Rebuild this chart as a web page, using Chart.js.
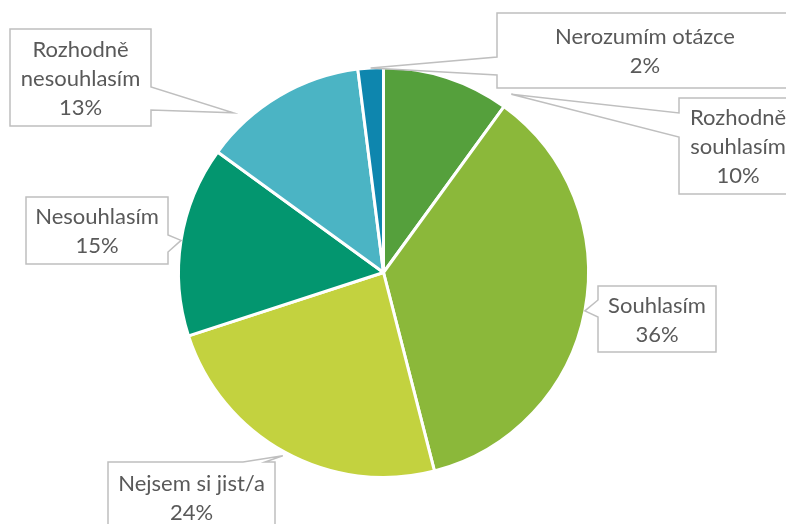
<!DOCTYPE html>
<html>
<head>
<meta charset="utf-8">
<script src="https://cdn.jsdelivr.net/npm/chart.js@4"></script>
<style>
  body { margin: 0; background: #fff; }
  canvas { display: block; }
</style>
</head>
<body>
<canvas id="grafica" width="786" height="524"></canvas>
<script>
// Kategorie a podíly odpovědí (v %)
var kategorie = ['Rozhodně souhlasím', 'Souhlasím', 'Nejsem si jist/a', 'Nesouhlasím', 'Rozhodně nesouhlasím', 'Nerozumím otázce'];
var podily = [10, 36, 24, 15, 13, 2];
var barvy = ['#55A03C', '#8BB83A', '#C3D23F', '#03966F', '#4BB4C4', '#0E86AE'];

// Rozmístění popisků (rámeček, strana se šipkou, kam šipka míří na výseči)
var popisky = [
    { box: [679, 98, 118, 96], side: 'left', base: [113, 137], frac: 0.99, r: 1.07, lines: ['Rozhodně', 'souhlasím'] },
    { box: [598, 286, 118, 66], side: 'left', base: [300, 317], frac: 0.5, r: 1.0, lines: ['Souhlasím'] },
    { box: [108, 462, 167, 70], side: 'top', base: [243, 265], frac: 0.5, r: 1.02, lines: ['Nejsem si jist/a'] },
    { box: [26, 197, 142, 67], side: 'right', base: [235, 252], frac: 0.5, r: 1.0, lines: ['Nesouhlasím'] },
    { box: [10, 29, 141, 97], side: 'right', base: [87, 110], frac: 0.23, r: 1.07, lines: ['Rozhodně', 'nesouhlasím'] },
    { box: [497, 13, 296, 75], side: 'left', base: [57, 75], frac: 0.5, r: 1.0, lines: ['Nerozumím otázce'] }
];

var calloutPlugin = {
    id: 'callouts',
    afterDatasetsDraw: function (chart) {
        var ctx = chart.ctx;
        var arcs = chart.getDatasetMeta(0).data;
        ctx.save();
        popisky.forEach(function (p, i) {
            var arc = arcs[i];
            var a = arc.startAngle + (arc.endAngle - arc.startAngle) * p.frac;
            var tx = arc.x + Math.cos(a) * arc.outerRadius * p.r;
            var ty = arc.y + Math.sin(a) * arc.outerRadius * p.r;
            var x = p.box[0], y = p.box[1], w = p.box[2], h = p.box[3];
            ctx.beginPath();
            if (p.side === 'left') {
                ctx.moveTo(x, y); ctx.lineTo(x + w, y); ctx.lineTo(x + w, y + h); ctx.lineTo(x, y + h);
                ctx.lineTo(x, p.base[1]); ctx.lineTo(tx, ty); ctx.lineTo(x, p.base[0]);
            } else if (p.side === 'right') {
                ctx.moveTo(x, y); ctx.lineTo(x + w, y); ctx.lineTo(x + w, p.base[0]); ctx.lineTo(tx, ty);
                ctx.lineTo(x + w, p.base[1]); ctx.lineTo(x + w, y + h); ctx.lineTo(x, y + h);
            } else {
                ctx.moveTo(x, y); ctx.lineTo(p.base[0], y); ctx.lineTo(tx, ty); ctx.lineTo(p.base[1], y);
                ctx.lineTo(x + w, y); ctx.lineTo(x + w, y + h); ctx.lineTo(x, y + h);
            }
            ctx.closePath();
            ctx.fillStyle = '#ffffff';
            ctx.fill();
            ctx.strokeStyle = '#BFBFBF';
            ctx.lineWidth = 1.5;
            ctx.stroke();

            var radky = p.lines.concat([podily[i] + '%']);
            ctx.fillStyle = '#595959';
            ctx.font = '22px Lato';
            ctx.textAlign = 'center';
            ctx.textBaseline = 'alphabetic';
            var cy = y + h / 2;
            radky.forEach(function (t, j) {
                ctx.fillText(t, x + w / 2, cy + (j - (radky.length - 1) / 2) * 29 + 8);
            });
        });
        ctx.restore();
    }
};

var ctx = document.getElementById('grafica').getContext('2d');
var graf = new Chart(ctx, {
    type: 'pie',
    data: {
        labels: kategorie,
        datasets: [{
            data: podily,
            backgroundColor: barvy,
            borderColor: '#ffffff',
            borderWidth: 3,
            hoverOffset: 0
        }]
    },
    options: {
        responsive: false,
        animation: false,
        layout: { padding: { top: 66, bottom: 45, left: 0, right: 19 } },
        plugins: {
            legend: { display: false },
            tooltip: { enabled: false }
        }
    },
    plugins: [calloutPlugin]
});
</script>
</body>
</html>
